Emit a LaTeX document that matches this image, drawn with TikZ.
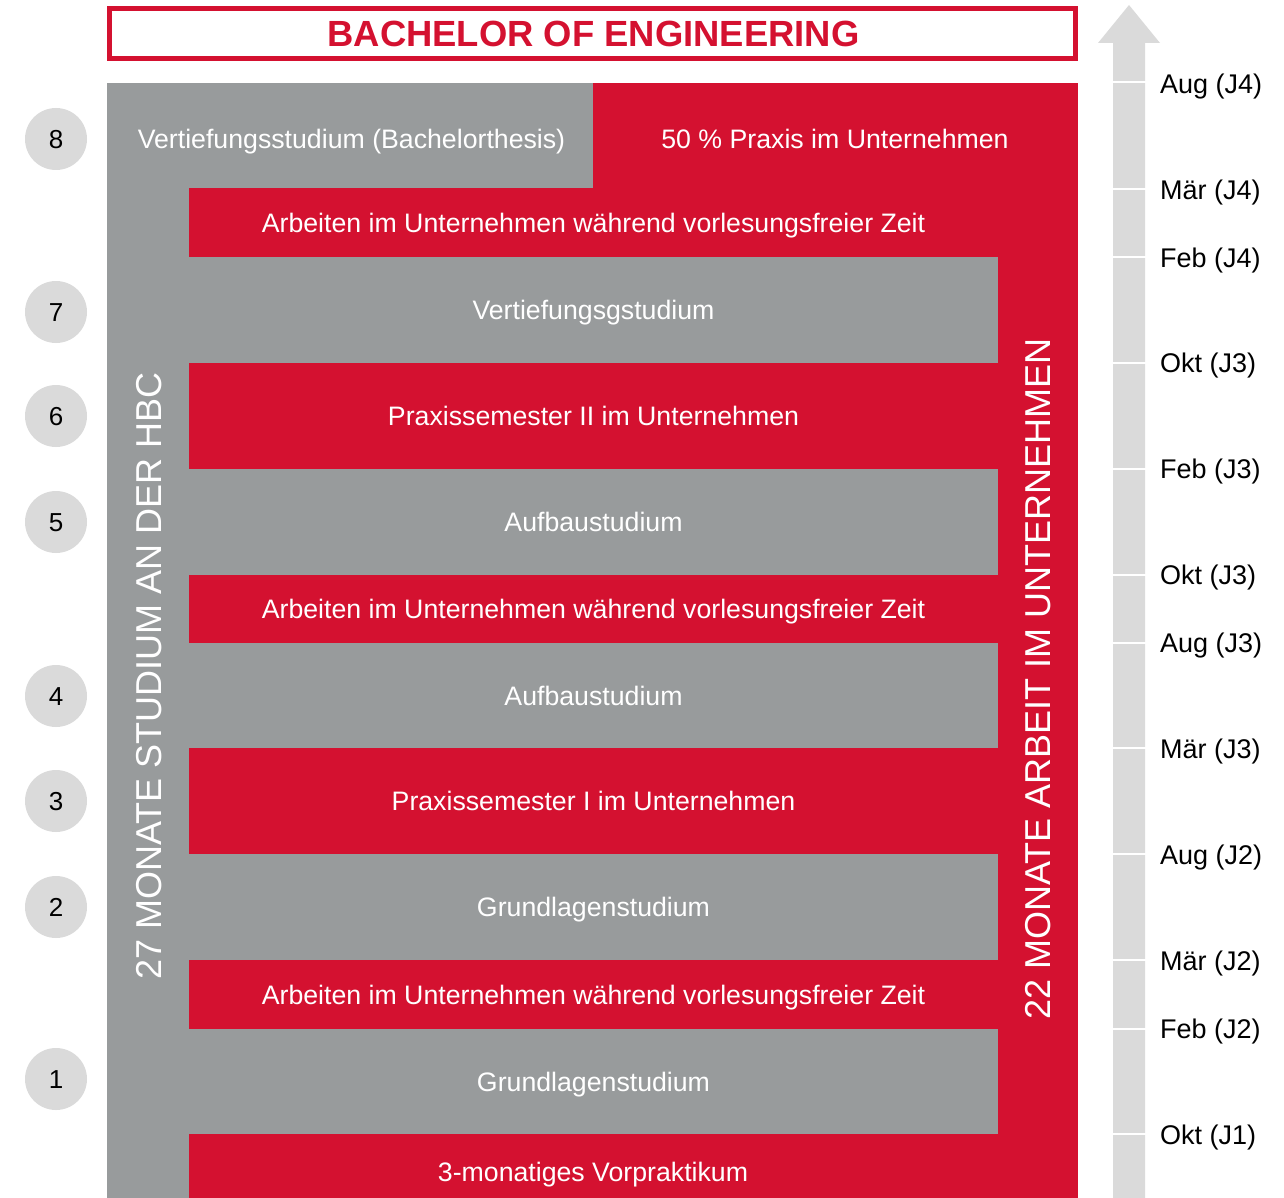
\documentclass[tikz,border=0pt]{standalone}
\usepackage{fontspec}
\setmainfont{Liberation Sans}
\definecolor{hbcred}{RGB}{212,17,48}
\definecolor{hbcgray}{RGB}{152,155,156}
\definecolor{lgray}{RGB}{218,218,218}
\tikzset{
  txt/.style={font=\fontsize{26.7}{30}\selectfont, text height=19.1pt, text depth=0pt, inner sep=0pt, text=white},
  band/.style={txt, minimum width=809pt, inner sep=0pt, outer sep=0pt},
  redband/.style={band, fill=hbcred},
  grayband/.style={band, fill=hbcgray},
  circ/.style={circle, fill=lgray, minimum size=62pt, inner sep=0pt, font=\fontsize{26}{30}\selectfont, text height=18.6pt, text depth=0pt},
  vert/.style={rotate=90, font=\fontsize{36}{40}\selectfont, text height=25.8pt, text depth=0pt, inner sep=0pt, text=white},
  datelbl/.style={anchor=west, inner sep=0pt, font=\fontsize{27}{30}\selectfont, text height=19.3pt, text depth=0pt},
  gap/.style={white, line width=2pt}
}
\begin{document}
\begin{tikzpicture}[x=1pt,y=-1pt]
\useasboundingbox (0,0) rectangle (1284,1198);
% title
\draw[hbcred, line width=5pt] (109.5,8.5) rectangle (1075.5,58.5);
\node[inner sep=0pt, text=hbcred, font=\bfseries\fontsize{36.4}{40}\selectfont] (title) at (593.5,34) {BACHELOR OF ENGINEERING};
% background blocks
\fill[hbcgray] (107,83) rectangle (593,1198);
\fill[hbcred] (593,83) rectangle (1078,1198);
\node[txt] (vt) at (351.5,139) {Vertiefungsstudium (Bachelorthesis)};
\node[txt] (pr) at (835,139) {50 \% Praxis im Unternehmen};
% bands
\node[redband, minimum height=69pt] (b11) at (593.5,222.5) {Arbeiten im Unternehmen während vorlesungsfreier Zeit};
\node[grayband, minimum height=106pt] (b10) at (593.5,310) {Vertiefungsgstudium};
\node[redband, minimum height=106pt] (b9) at (593.5,416) {Praxissemester II im Unternehmen};
\node[grayband, minimum height=106pt] (b8) at (593.5,522) {Aufbaustudium};
\node[redband, minimum height=68pt] (b7) at (593.5,609) {Arbeiten im Unternehmen während vorlesungsfreier Zeit};
\node[grayband, minimum height=105pt] (b6) at (593.5,695.5) {Aufbaustudium};
\node[redband, minimum height=106pt] (b5) at (593.5,801) {Praxissemester I im Unternehmen};
\node[grayband, minimum height=106pt] (b4) at (593.5,907) {Grundlagenstudium};
\node[redband, minimum height=69pt] (b3) at (593.5,994.5) {Arbeiten im Unternehmen während vorlesungsfreier Zeit};
\node[grayband, minimum height=105pt] (b2) at (593.5,1081.5) {Grundlagenstudium};
\node[redband, minimum height=64pt] (b1) at (593.5,1166) {};
\node[txt] (b1t) at (593,1172) {3-monatiges Vorpraktikum};
% vertical labels
\node[vert] (v1) at (148.5,676) {27 MONATE STUDIUM AN DER HBC};
\node[vert] (v2) at (1037.5,679) {22 MONATE ARBEIT IM UNTERNEHMEN};
% circles
\node[circ] (c8) at (56,139) {8};
\node[circ] (c7) at (56,312) {7};
\node[circ] (c6) at (56,416) {6};
\node[circ] (c5) at (56,522) {5};
\node[circ] (c4) at (56,696) {4};
\node[circ] (c3) at (56,801) {3};
\node[circ] (c2) at (56,907) {2};
\node[circ] (c1) at (56,1079) {1};
% time arrow
\fill[lgray] (1113,1198) -- (1113,43) -- (1098,43) -- (1129,5) -- (1160,43) -- (1145,43) -- (1145,1198) -- cycle;
\foreach \yy in {82,189,257,363,469,575,643,748,854,960,1029,1134}{
  \draw[gap] (1112,\yy) -- (1146,\yy);
}
\node[datelbl] (d1) at (1160,84) {Aug (J4)};
\node[datelbl] (d2) at (1160,190) {Mär (J4)};
\node[datelbl] (d3) at (1160,258) {Feb (J4)};
\node[datelbl] (d4) at (1160,363) {Okt (J3)};
\node[datelbl] (d5) at (1160,469) {Feb (J3)};
\node[datelbl] (d6) at (1160,575) {Okt (J3)};
\node[datelbl] (d7) at (1160,643) {Aug (J3)};
\node[datelbl] (d8) at (1160,749) {Mär (J3)};
\node[datelbl] (d9) at (1160,855) {Aug (J2)};
\node[datelbl] (d10) at (1160,961) {Mär (J2)};
\node[datelbl] (d11) at (1160,1029) {Feb (J2)};
\node[datelbl] (d12) at (1160,1135) {Okt (J1)};
\end{tikzpicture}
\end{document}
